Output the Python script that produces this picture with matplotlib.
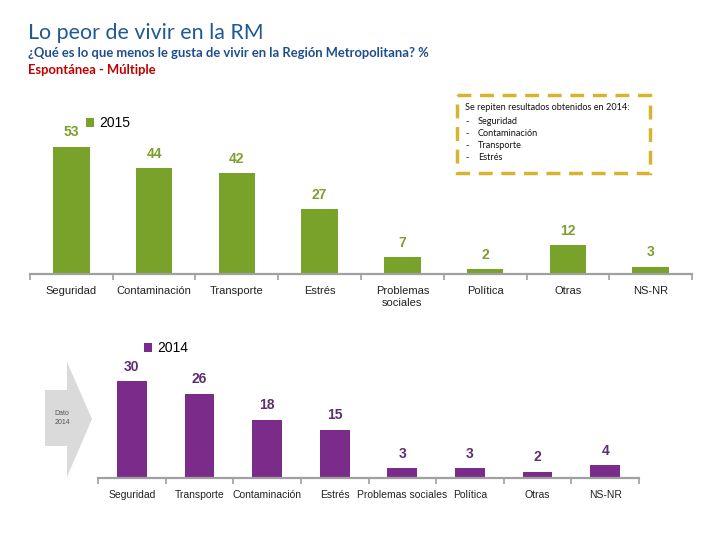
import matplotlib.pyplot as plt
from matplotlib.patches import Polygon, Rectangle

# datos 2015 (arriba)
cats_2015 = ["Seguridad", "Contaminación", "Transporte", "Estrés",
             "Problemas\nsociales", "Política", "Otras", "NS-NR"]
vals_2015 = [53, 44, 42, 27, 7, 2, 12, 3]

# datos 2014 (abajo)
cats_2014 = ["Seguridad", "Transporte", "Contaminación", "Estrés",
             "Problemas sociales", "Política", "Otras", "NS-NR"]
vals_2014 = [30, 26, 18, 15, 3, 3, 2, 4]

box_lines = ["Seguridad", "Contaminación", "Transporte", "Estrés"]

GREEN = "#78A22A"
GREEN_TXT = "#7E9E2E"
PURPLE = "#7B2C8A"
PURPLE_TXT = "#5F2E6E"
AXIS_GREY = "#A0A0A0"

W, H = 720, 540
fig = plt.figure(figsize=(7.2, 5.4), dpi=100)


def px_axes(left, top, right, bottom):
    return fig.add_axes([left / W, 1 - bottom / H, (right - left) / W, (bottom - top) / H])


def bar_panel(ax, cats, vals, color, txt_color, ymax, label_size, label):
    x = range(len(cats))
    bars = ax.bar(x, vals, width=0.44, color=color, label=label)
    for b, v in zip(bars, vals):
        ax.annotate(str(v), (b.get_x() + b.get_width() / 2, v), xytext=(0, 10.5),
                    textcoords="offset points", ha="center", va="center",
                    fontsize=10, fontweight="bold", color=txt_color,
                    family="Liberation Sans")
    ax.set_xlim(-0.5, len(cats) - 0.5)
    ax.set_ylim(0, ymax)
    for s in ["top", "right", "left"]:
        ax.spines[s].set_visible(False)
    ax.spines["bottom"].set_color(AXIS_GREY)
    ax.spines["bottom"].set_linewidth(1.6)
    ax.set_yticks([])
    ax.set_xticks(list(x))
    ax.set_xticklabels(cats, fontsize=label_size, color="#222222", family="Liberation Sans")
    ax.tick_params(axis="x", which="major", length=0, pad=9)
    ax.set_xticks([i - 0.5 for i in range(len(cats) + 1)], minor=True)
    ax.tick_params(axis="x", which="minor", length=4, width=1.2, color=AXIS_GREY)
    ax.patch.set_visible(False)
    return ax


ax1 = px_axes(30, 130, 692, 274)
bar_panel(ax1, cats_2015, vals_2015, GREEN, GREEN_TXT, 60, 8, "2015")

ax2 = px_axes(98, 365, 639, 478)
bar_panel(ax2, cats_2014, vals_2014, PURPLE, PURPLE_TXT, 35, 7.5, "2014")

for ax, xy in [(ax1, (86, 123)), (ax2, (144, 348))]:
    ax.legend(loc="center left", bbox_to_anchor=(xy[0] / W, 1 - xy[1] / H),
              bbox_transform=fig.transFigure, frameon=False,
              handlelength=0.6, handleheight=0.6, handletextpad=0.35,
              borderpad=0, borderaxespad=0, prop={"family": "Liberation Sans", "size": 10})

# capa de anotaciones en pixeles
ov = fig.add_axes([0, 0, 1, 1], zorder=-1)
ov.set_xlim(0, W)
ov.set_ylim(H, 0)
ov.axis("off")

ov.text(28, 33, "Lo peor de vivir en la RM", fontsize=15.4, color="#1F5A96",
        family="Lato", va="center")
ov.text(28, 53, "¿Qué es lo que menos le gusta de vivir en la Región Metropolitana? %",
        fontsize=9.4, color="#1F4E8C", family="Lato", fontweight="bold", va="center")
ov.text(28, 70, "Espontánea - Múltiple", fontsize=9.4, color="#C00000",
        family="Lato", fontweight="bold", va="center")

# recuadro punteado
ov.add_patch(Rectangle((457, 95), 193, 78, fill=False, edgecolor="#D6B42E",
                       linewidth=2.5, linestyle=(0, (4, 2.5))))
ov.text(465, 108, "Se repiten resultados obtenidos en 2014:", fontsize=6.6,
        family="Lato", va="center", color="#111111")
for i, t in enumerate(box_lines):
    y = 122 + i * 12
    ov.text(465, y, "-", fontsize=6.6, family="Lato", va="center", color="#111111")
    ov.text(478, y, t, fontsize=6.6, family="Lato", va="center", color="#111111")

# flecha "Dato 2014"
ov.add_patch(Polygon([(45, 390), (67, 390), (67, 362), (92, 419), (67, 477),
                      (67, 446), (45, 446)], closed=True, facecolor="#DADADA",
                     edgecolor="none"))
ov.text(62, 418, "Dato\n2014", fontsize=5, color="#555555", ha="center",
        va="center", family="Liberation Sans", linespacing=1.4)

fig.savefig("out.png", dpi=100)
